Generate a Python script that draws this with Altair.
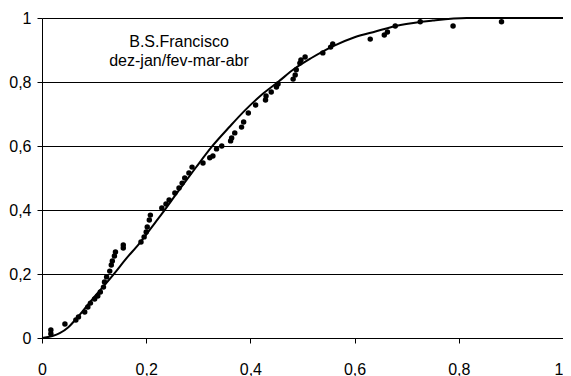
import altair as alt
import pandas as pd

obs_x = [0.017, 0.017, 0.044, 0.065, 0.070, 0.082, 0.088, 0.093, 0.101, 0.107,
         0.112, 0.118, 0.120, 0.124, 0.130, 0.133, 0.135, 0.139, 0.141, 0.156,
         0.156, 0.190, 0.196, 0.200, 0.202, 0.206, 0.208, 0.230, 0.238, 0.244,
         0.255, 0.263, 0.269, 0.274, 0.282, 0.288, 0.309, 0.322, 0.328, 0.335,
         0.345, 0.362, 0.364, 0.370, 0.383, 0.387, 0.396, 0.410, 0.429, 0.430,
         0.440, 0.450, 0.453, 0.482, 0.486, 0.488, 0.495, 0.497, 0.505, 0.539,
         0.554, 0.558, 0.630, 0.657, 0.663, 0.678, 0.726, 0.789, 0.882]
obs_y = [0.013, 0.025, 0.044, 0.056, 0.066, 0.081, 0.097, 0.109, 0.122, 0.131,
         0.144, 0.159, 0.175, 0.191, 0.209, 0.228, 0.241, 0.256, 0.269, 0.281,
         0.291, 0.300, 0.316, 0.331, 0.347, 0.369, 0.384, 0.406, 0.419, 0.431,
         0.453, 0.469, 0.484, 0.500, 0.516, 0.534, 0.547, 0.563, 0.569, 0.591,
         0.600, 0.616, 0.625, 0.641, 0.659, 0.675, 0.703, 0.728, 0.744, 0.756,
         0.769, 0.784, 0.794, 0.809, 0.822, 0.838, 0.859, 0.869, 0.878, 0.891,
         0.909, 0.919, 0.934, 0.947, 0.956, 0.975, 0.988, 0.975, 0.988]

# Fitted curve
fit_x = [0, 0.02, 0.034, 0.05, 0.07, 0.098, 0.12, 0.139, 0.16, 0.187, 0.21,
         0.231, 0.263, 0.295, 0.326, 0.36, 0.39, 0.42, 0.453, 0.485, 0.517,
         0.56, 0.6, 0.64, 0.688, 0.75, 0.815, 0.9, 1.0]
fit_y = [0, 0.006, 0.015, 0.033, 0.068, 0.124, 0.165, 0.202, 0.245, 0.296,
         0.345, 0.39, 0.462, 0.532, 0.598, 0.66, 0.712, 0.758, 0.80, 0.842,
         0.875, 0.913, 0.94, 0.958, 0.978, 0.992, 1.0, 1.0, 1.0]

tick_values = [0, 0.2, 0.4, 0.6, 0.8, 1.0]
annotation = ["B.S.Francisco", "dez-jan/fev-mar-abr"]

pts = pd.DataFrame({"x": obs_x, "y": obs_y})
fit = pd.DataFrame({"x": fit_x, "y": fit_y})

FONT = "Liberation Sans"
label_expr = "replace(datum.label, '.', ',')"

xscale = alt.Scale(domain=[0, 1], nice=False, zero=False)
yscale = alt.Scale(domain=[0, 1], nice=False, zero=False)

xaxis = alt.Axis(values=tick_values, format=".1~f", labelExpr=label_expr, title=None,
                 grid=False, domainColor="black", tickColor="black", tickSize=5,
                 labelPadding=18, labelFont=FONT, labelFontSize=16, labelColor="black",
                 labelFlush=False, labelOverlap=False,
                 labelAlign={"condition": {"test": "datum.value >= 1", "value": "right"},
                             "value": "center"})
yaxis = alt.Axis(values=tick_values, format=".1~f", labelExpr=label_expr, title=None,
                 grid=True, gridColor="black", gridWidth=1, domainColor="black",
                 tickColor="black", tickSize=5, labelPadding=6, labelFont=FONT,
                 labelFontSize=16, labelColor="black", labelFlush=False,
                 labelOverlap=False)

points = alt.Chart(pts).mark_circle(color="black", size=30, opacity=1).encode(
    x=alt.X("x:Q", scale=xscale, axis=xaxis),
    y=alt.Y("y:Q", scale=yscale, axis=yaxis),
)

curve = alt.Chart(fit).mark_line(color="black", strokeWidth=2, interpolate="monotone").encode(
    x=alt.X("x:Q", scale=xscale),
    y=alt.Y("y:Q", scale=yscale),
)

text = alt.Chart(pd.DataFrame({"t": [annotation]})).mark_text(
    font=FONT, fontSize=16, color="black", align="center", baseline="alphabetic",
    lineHeight=19,
).encode(text="t", x=alt.value(137), y=alt.value(29))

chart = alt.layer(curve, points, text).properties(
    width=521, height=320,
    autosize=alt.AutoSizeParams(type="none"),
    padding={"left": 34, "top": 10, "right": 0, "bottom": 38},
).configure_view(stroke="#808080", strokeWidth=1).configure(background="white")

chart.save("out.html", embed_options={"renderer": "svg", "actions": False})
